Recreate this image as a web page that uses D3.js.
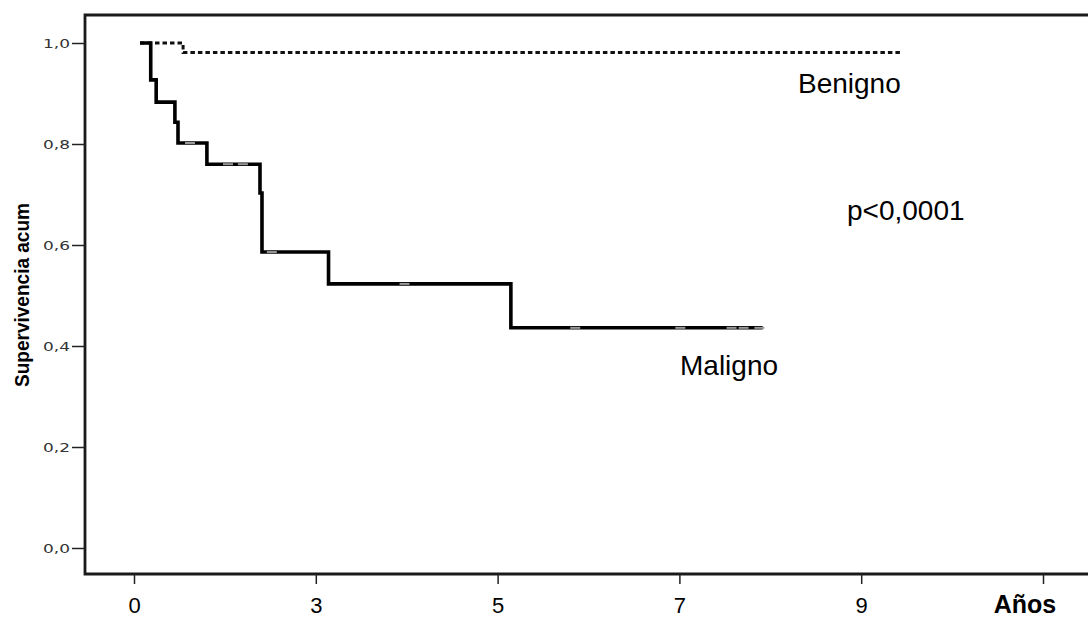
<!DOCTYPE html>
<html>
<head>
<meta charset="utf-8">
<script src="https://cdn.jsdelivr.net/npm/d3@7"></script>
<style>
  body { margin: 0; background: #fff; }
  svg { display: block; }
</style>
</head>
<body>
<svg id="chart" width="1088" height="617"></svg>
<script>
// x is in "tick units": tick i sits under xLabels[i]
const xLabels = ["0", "3", "5", "7", "9"];
const xTicks = [0, 1, 2, 3, 4, 5];
const yTicks = [0, 0.2, 0.4, 0.6, 0.8, 1.0];

// Kaplan-Meier steps: [time, survival after that time]
const malignoSteps = [
  [0.033, 1.0],
  [0.092, 0.927],
  [0.122, 0.883],
  [0.225, 0.843],
  [0.242, 0.802],
  [0.401, 0.760],
  [0.693, 0.703],
  [0.704, 0.586],
  [1.070, 0.523],
  [2.073, 0.436]
];
const malignoEnd = 3.458;
const malignoCensored = [
  [0.308, 0.802],
  [0.517, 0.760],
  [0.599, 0.760],
  [0.758, 0.586],
  [1.488, 0.523],
  [2.427, 0.436],
  [3.005, 0.436],
  [3.287, 0.436],
  [3.353, 0.436],
  [3.44, 0.436]
];

const benignoSteps = [
  [0.033, 1.0],
  [0.27, 0.981]
];
const benignoEnd = 4.22;

const svg = d3.select("#chart");

const x = d3.scaleLinear().domain([0, 5]).range([134, 1043]);
const y = d3.scaleLinear().domain([0, 1]).range([548, 43]);

const frameLeft = 85;
const frameTop = 15;
const frameBottom = 574;

// build a step path: horizontal then vertical
function stepPoints(steps, end) {
  const pts = [];
  for (let i = 0; i < steps.length; i++) {
    const t = steps[i][0];
    const s = steps[i][1];
    if (i > 0) {
      pts.push([t, steps[i - 1][1]]);
    }
    pts.push([t, s]);
  }
  pts.push([end, steps[steps.length - 1][1]]);
  return pts;
}

const line = d3.line()
  .x(d => x(d[0]))
  .y(d => y(d[1]));

function drawFrame() {
  svg.append("path")
    .attr("d", `M1100,${frameTop} H${frameLeft} V${frameBottom} H1100`)
    .attr("fill", "none")
    .attr("stroke", "#1a1a1a")
    .attr("stroke-width", 2.8);
}

function drawAxes() {
  const xAxis = d3.axisBottom(x)
    .tickValues(xTicks)
    .tickSize(10)
    .tickFormat((d, i) => xLabels[i] !== undefined ? xLabels[i] : "");

  const gx = svg.append("g")
    .attr("transform", `translate(0,${frameBottom})`)
    .call(xAxis);
  gx.select(".domain").remove();
  gx.selectAll(".tick line").attr("stroke", "#222").attr("stroke-width", 1.5);
  gx.selectAll(".tick text")
    .attr("y", 39)
    .attr("dy", null)
    .attr("fill", "#000")
    .style("font-family", "Liberation Sans, Arial, sans-serif")
    .style("font-size", "22px");

  // axis title sits where a 6th label would be
  svg.append("text")
    .attr("x", x(5) - 18)
    .attr("y", 613)
    .attr("text-anchor", "middle")
    .style("font-family", "Liberation Sans, Arial, sans-serif")
    .style("font-size", "25px")
    .style("font-weight", "bold")
    .text("Años");

  const yAxis = d3.axisLeft(y)
    .tickValues(yTicks)
    .tickSize(13)
    .tickFormat(d => d3.format(".1f")(d).replace(".", ","));

  const gy = svg.append("g")
    .attr("transform", `translate(${frameLeft},0)`)
    .call(yAxis);
  gy.select(".domain").remove();
  gy.selectAll(".tick line").attr("stroke", "#222").attr("stroke-width", 1.5);
  gy.selectAll(".tick text")
    .attr("x", -15)
    .attr("dy", "0.35em")
    .attr("fill", "#333")
    .attr("textLength", 27)
    .attr("lengthAdjust", "spacingAndGlyphs")
    .style("font-family", "DejaVu Sans, sans-serif")
    .style("font-size", "13px");

  svg.append("text")
    .attr("transform", "translate(29,295) rotate(-90)")
    .attr("text-anchor", "middle")
    .attr("textLength", 184)
    .attr("lengthAdjust", "spacingAndGlyphs")
    .style("font-family", "Liberation Sans Narrow, Arial Narrow, Liberation Sans, sans-serif")
    .style("font-size", "21px")
    .style("font-weight", "bold")
    .text("Supervivencia acum");
}

function drawCurves() {
  svg.append("path")
    .datum(stepPoints(benignoSteps, benignoEnd))
    .attr("d", line)
    .attr("fill", "none")
    .attr("stroke", "#111")
    .attr("stroke-width", 3)
    .attr("stroke-dasharray", "4.5,3");

  svg.append("path")
    .datum(stepPoints(malignoSteps, malignoEnd))
    .attr("d", line)
    .attr("fill", "none")
    .attr("stroke", "#000")
    .attr("stroke-width", 3.6);

  // censor marks show up as short grey bits on the line
  svg.selectAll(".censor")
    .data(malignoCensored)
    .join("line")
    .attr("class", "censor")
    .attr("x1", d => x(d[0]) - 5)
    .attr("x2", d => x(d[0]) + 5)
    .attr("y1", d => y(d[1]))
    .attr("y2", d => y(d[1]))
    .attr("stroke", "#999")
    .attr("stroke-width", 2);
}

function drawLabels() {
  const labels = [
    { text: "Benigno", x: 798, y: 93 },
    { text: "p<0,0001", x: 847, y: 220 },
    { text: "Maligno", x: 680, y: 375 }
  ];
  svg.selectAll(".lbl")
    .data(labels)
    .join("text")
    .attr("class", "lbl")
    .attr("x", d => d.x)
    .attr("y", d => d.y)
    .style("font-family", "Liberation Sans, Arial, sans-serif")
    .style("font-size", "28px")
    .text(d => d.text);
}

drawFrame();
drawAxes();
drawCurves();
drawLabels();
</script>
</body>
</html>
